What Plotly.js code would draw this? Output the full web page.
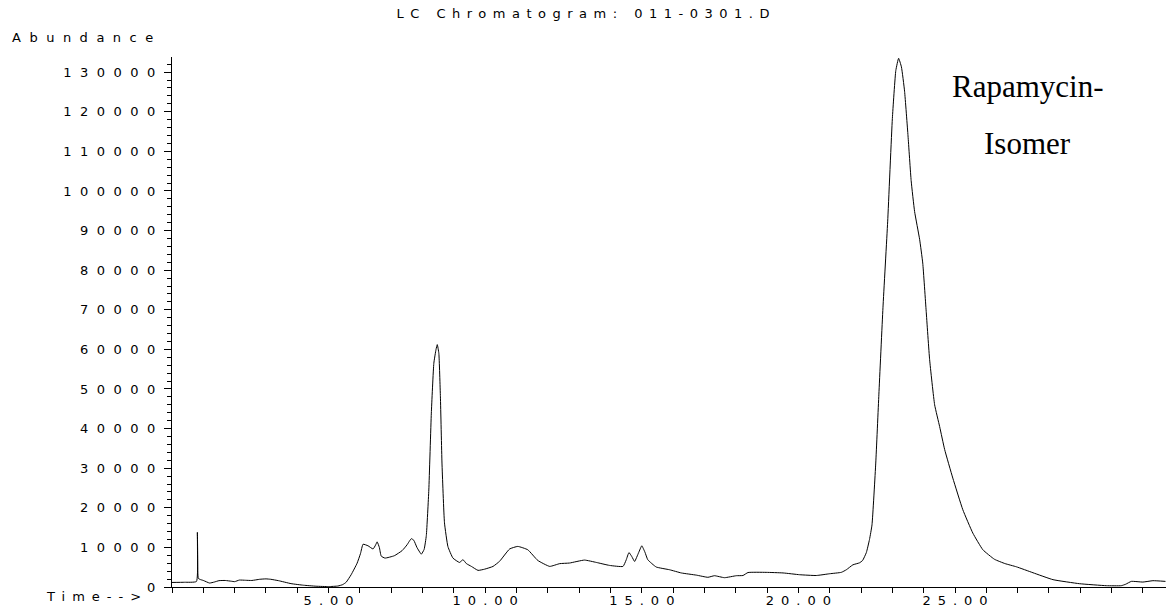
<!DOCTYPE html>
<html>
<head>
<meta charset="utf-8">
<script src="https://cdn.plot.ly/plotly-3.0.1.min.js"></script>
<style>html,body{margin:0;padding:0;background:#fff;overflow:hidden}</style>
</head>
<body>
<div id="chart" style="width:1166px;height:607px"></div>
<script>
// ---- data ----
const timeMin = [
  0.00, 0.40, 0.78, 0.81, 0.84, 0.90, 1.00, 1.20, 1.35, 1.50, 1.70, 1.90, 2.00, 2.15, 2.35, 2.55, 2.80, 3.00, 3.15, 3.40,
  3.80, 4.20, 4.60, 5.00, 5.30, 5.45, 5.56, 5.72, 5.91, 6.02, 6.10, 6.26, 6.42, 6.50, 6.55, 6.62, 6.68, 6.80, 7.10, 7.35,
  7.50, 7.64, 7.72, 7.82, 7.96, 8.05, 8.12, 8.20, 8.28, 8.36, 8.43, 8.47, 8.52, 8.57, 8.62, 8.70, 8.81, 8.97, 9.18, 9.29,
  9.40, 9.56, 9.77, 9.98, 10.25, 10.46, 10.78, 11.04, 11.36, 11.68, 12.06, 12.38, 12.69, 13.17, 13.55, 13.97, 14.40, 14.50, 14.59, 14.68,
  14.77, 14.90, 15.00, 15.10, 15.19, 15.46, 15.89, 16.26, 16.74, 17.11, 17.32, 17.64, 18.02, 18.23, 18.39, 18.97, 19.51, 20.04, 20.57, 21.00,
  21.37, 21.53, 21.74, 21.95, 22.05, 22.17, 22.27, 22.35, 22.47, 22.57, 22.70, 22.85, 23.00, 23.11, 23.20, 23.29, 23.39, 23.50, 23.60, 23.71,
  23.87, 23.97, 24.08, 24.19, 24.35, 24.51, 24.67, 24.93, 25.25, 25.57, 25.89, 26.26, 26.60, 26.96, 27.49, 28.13, 28.98, 29.83, 30.31, 30.45,
  30.63, 31.00, 31.32, 31.72
];
const abundance = [
  1150, 1200, 1400, 13800, 2200, 1900, 1650, 1000, 1250, 1600, 1650, 1450, 1350, 1750, 1700, 1650, 1950, 2050, 1950, 1600,
  850, 450, 200, 100, 250, 600, 1200, 3100, 6000, 8500, 10800, 10400, 9600, 10600, 11400, 10000, 7800, 7300, 7900, 9200,
  10600, 12200, 11800, 10000, 8300, 9500, 13000, 24500, 43900, 56500, 60000, 61200, 59000, 48000, 31300, 16200, 10200, 7300, 6200, 6900,
  5900, 5200, 4200, 4500, 5200, 6500, 9600, 10250, 9400, 6700, 5200, 5900, 6050, 6800, 6200, 5450, 5200, 6800, 8700, 7700,
  6450, 8700, 10400, 8800, 6900, 5050, 4350, 3550, 3000, 2450, 2850, 2350, 2850, 2900, 3650, 3700, 3550, 3100, 2900, 3350,
  3700, 4350, 5600, 6100, 6700, 8700, 12000, 15700, 31300, 48700, 70500, 92200, 118300, 130400, 133500, 131300, 125200, 113900, 102600, 94800,
  87800, 81800, 69600, 57400, 46000, 40500, 34700, 27500, 19500, 13600, 9400, 7000, 5900, 5100, 3600, 1850, 830, 330, 330, 700,
  1420, 1250, 1590, 1420
];
const xTickVals = [5, 10, 15, 20, 25, 30];
const xTickLabels = ["5.00", "10.00", "15.00", "20.00", "25.00", ""];
const yTickVals = [0, 10000, 20000, 30000, 40000, 50000, 60000, 70000, 80000, 90000, 100000, 110000, 120000, 130000];
const yTickLabels = ["0", "10000", "20000", "30000", "40000", "50000", "60000", "70000", "80000", "90000", "100000", "110000", "120000", "130000"];
const titleText = "LC Chromatogram: 011-0301.D";
const yLabelText = "Abundance";
const xLabelText = "Time-->";
const peakLabelLines = ["Rapamycin-", "Isomer"];

// ---- styling helpers ----
// letter spacing on every character except the last one (no trailing gap)
const spaced = (s, sp) => s.length < 2 ? s :
  '<span style="letter-spacing:' + sp + 'px">' + s.slice(0, -1) + '</span>' + s.slice(-1);
const axFont = {family: "DejaVu Sans", size: 13, color: "#000"};
const W = 1166, H = 607;
const M = {l: 172, r: 0, t: 57, b: 20};
const PW = W - M.l - M.r, PH = H - M.t - M.b;
const px2x = x => (x - M.l) / PW;
const px2y = y => (H - M.b - y) / PH;

const trace = {
  x: timeMin, y: abundance, type: "scatter", mode: "lines",
  line: {color: "#000", width: 1, shape: "spline", smoothing: 0.4},
  hoverinfo: "skip"
};

const layout = {
  width: W, height: H, margin: M,
  paper_bgcolor: "#fff", plot_bgcolor: "#fff",
  showlegend: false,
  title: {
    text: spaced(titleText, 6.5), font: axFont,
    xref: "container", x: 0.5, xanchor: "center",
    yref: "container", y: 1 - 13 / H, yanchor: "middle"
  },
  xaxis: {
    range: [0, PW / 31.32], showline: true, linecolor: "#000", linewidth: 1,
    showgrid: false, zeroline: false,
    tickmode: "array", tickvals: xTickVals, ticktext: xTickLabels.map(s => spaced(s, 7)),
    ticks: "outside", ticklen: 5, tickcolor: "#000", tickwidth: 1,
    ticklabelstandoff: -4,
    tickfont: axFont,
    minor: {tickmode: "linear", tick0: 0, dtick: 1, ticks: "outside", ticklen: 5, tickcolor: "#000", tickwidth: 1, showgrid: false}
  },
  yaxis: {
    range: [0, PH * 252.5], showline: true, linecolor: "#000", linewidth: 1,
    showgrid: false, zeroline: false,
    tickmode: "array", tickvals: yTickVals, ticktext: yTickLabels.map(s => spaced(s, 8.5)),
    ticks: "outside", ticklen: 7, tickcolor: "#000", tickwidth: 1,
    ticklabelstandoff: 6,
    tickfont: axFont,
    minor: {tickmode: "linear", tick0: 0, dtick: 2000, ticks: "outside", ticklen: 4, tickcolor: "#000", tickwidth: 1, showgrid: false}
  },
  annotations: [
    {text: spaced(yLabelText, 8.5), xref: "paper", yref: "paper", x: px2x(10), y: px2y(37),
     xanchor: "left", yanchor: "middle", showarrow: false, font: axFont},
    {text: spaced(xLabelText, 7), xref: "paper", yref: "paper", x: px2x(44), y: px2y(596),
     xanchor: "left", yanchor: "middle", showarrow: false, font: axFont},
    {text: peakLabelLines[0], xref: "paper", yref: "paper", x: px2x(1027.5), y: px2y(86.6),
     xanchor: "center", yanchor: "middle", showarrow: false,
     font: {family: "Liberation Serif", size: 31, color: "#000"}},
    {text: peakLabelLines[1], xref: "paper", yref: "paper", x: px2x(1027.5), y: px2y(143.9),
     xanchor: "center", yanchor: "middle", showarrow: false,
     font: {family: "Liberation Serif", size: 31, color: "#000"}}
  ]
};

Plotly.newPlot("chart", [trace], layout, {staticPlot: true, displayModeBar: false});
</script>
</body>
</html>
